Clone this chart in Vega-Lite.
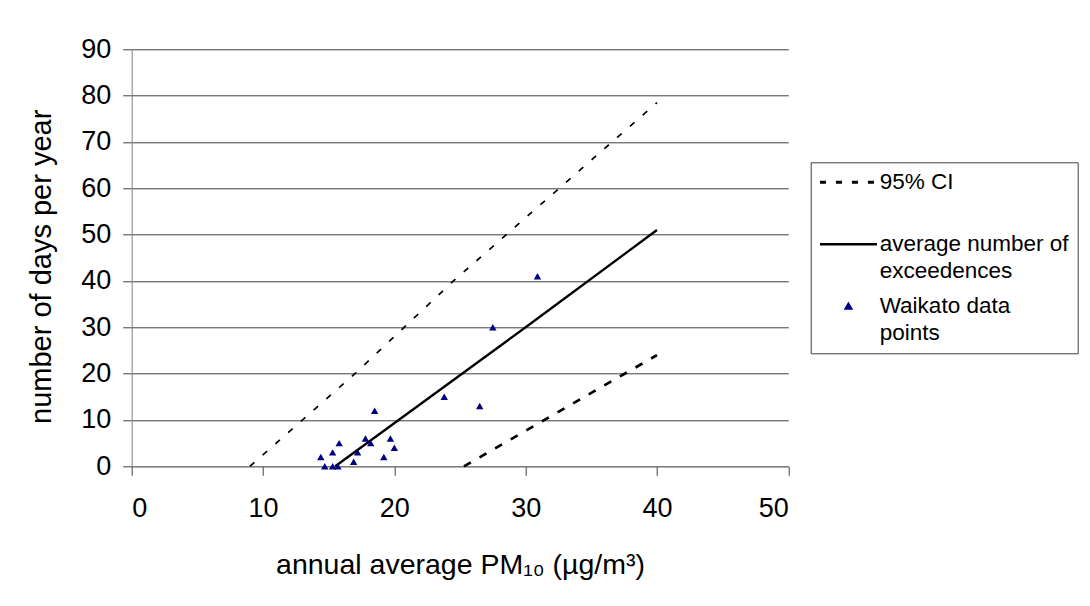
{
  "$schema": "https://vega.github.io/schema/vega-lite/v6.json",
  "width": 656.6,
  "height": 417,
  "autosize": {"type": "none"},
  "padding": {"left": 131.7, "top": 49.3, "right": 301.7, "bottom": 139.7},
  "background": "white",
  "datasets": {
    "lines": [
      {"x": 9, "y": 0, "series": "95% CI", "line": "upper"},
      {"x": 17, "y": 20, "series": "95% CI", "line": "upper"},
      {"x": 24.5, "y": 40, "series": "95% CI", "line": "upper"},
      {"x": 40, "y": 78.5, "series": "95% CI", "line": "upper"},
      {"x": 25.3, "y": 0, "series": "95% CI", "line": "lower"},
      {"x": 40, "y": 24, "series": "95% CI", "line": "lower"},
      {"x": 15.5, "y": 0, "series": "average number of exceedences", "line": "average"},
      {"x": 30, "y": 30, "series": "average number of exceedences", "line": "average"},
      {"x": 40, "y": 51, "series": "average number of exceedences", "line": "average"}
    ],
    "points": [
      {"x": 30.9, "y": 41, "series": "Waikato data points"},
      {"x": 27.5, "y": 30, "series": "Waikato data points"},
      {"x": 23.8, "y": 15, "series": "Waikato data points"},
      {"x": 26.5, "y": 13, "series": "Waikato data points"},
      {"x": 18.5, "y": 12, "series": "Waikato data points"},
      {"x": 17.8, "y": 6, "series": "Waikato data points"},
      {"x": 19.7, "y": 6, "series": "Waikato data points"},
      {"x": 15.8, "y": 5, "series": "Waikato data points"},
      {"x": 18.2, "y": 5, "series": "Waikato data points"},
      {"x": 20, "y": 4, "series": "Waikato data points"},
      {"x": 15.3, "y": 3, "series": "Waikato data points"},
      {"x": 17.2, "y": 3, "series": "Waikato data points"},
      {"x": 14.4, "y": 2, "series": "Waikato data points"},
      {"x": 19.2, "y": 2, "series": "Waikato data points"},
      {"x": 16.9, "y": 1, "series": "Waikato data points"},
      {"x": 14.7, "y": 0, "series": "Waikato data points"},
      {"x": 15.3, "y": 0, "series": "Waikato data points"},
      {"x": 15.7, "y": 0, "series": "Waikato data points"}
    ]
  },
  "encoding": {
    "x": {
      "field": "x", "type": "quantitative",
      "scale": {"domain": [0, 50], "nice": false, "zero": false},
      "axis": {
        "title": "annual average PM₁₀ (µg/m³)",
        "values": [0, 10, 20, 30, 40, 50],
        "grid": false,
        "labelFontSize": 27,
        "labelPadding": 20,
        "titleFontSize": 28.5,
        "titlePadding": 29,
        "tickSize": 9
      }
    },
    "y": {
      "field": "y", "type": "quantitative",
      "scale": {"domain": [0, 90], "nice": false, "zero": false},
      "axis": {
        "title": "number of days per year",
        "values": [0, 10, 20, 30, 40, 50, 60, 70, 80, 90],
        "grid": true,
        "labelFontSize": 27,
        "labelPadding": 12,
        "titleFontSize": 29,
        "titlePadding": 24,
        "titleY": 217,
        "tickSize": 9
      }
    }
  },
  "layer": [
    {
      "data": {"name": "lines"},
      "transform": [{"filter": "datum.line == 'upper'"}],
      "mark": {"type": "line", "strokeDash": [6, 11], "strokeWidth": 1.7},
      "encoding": {
        "color": {
          "field": "series", "type": "nominal",
          "scale": {
            "domain": ["95% CI", "average number of exceedences", "Waikato data points"],
            "range": ["#000000", "#000000", "#000080"]
          },
          "legend": {
            "orient": "none",
            "legendX": 679,
            "legendY": 113,
            "title": null,
            "padding": 9,
            "strokeColor": "#404040",
            "fillColor": "#ffffff",
            "labelFont": "Liberation Sans",
            "labelFontSize": 22.5,
            "labelColor": "#000000",
            "labelLimit": 400,
            "labelOffset": 20,
            "labelBaseline": "top",
            "symbolType": "stroke",
            "symbolSize": 3249,
            "symbolOffset": 17.5,
            "clipHeight": 22,
            "rowPadding": 13,
            "labelExpr": "datum.label == '95% CI' ? ['95% CI', ''] : datum.label == 'Waikato data points' ? ['Waikato data', 'points'] : ['average number of', 'exceedences']",
            "encode": {
              "symbols": {
                "update": {
                  "shape": {"signal": "datum.value == 'Waikato data points' ? 'triangle-up' : 'stroke'"},
                  "size": {"signal": "datum.value == 'Waikato data points' ? 28 : 3249"},
                  "fill": {"signal": "datum.value == 'Waikato data points' ? '#000080' : 'transparent'"},
                  "stroke": {"signal": "datum.value == 'Waikato data points' ? 'transparent' : '#000000'"},
                  "strokeWidth": {"signal": "datum.value == '95% CI' ? 3 : 2.5"},
                  "strokeDash": {"signal": "datum.value == '95% CI' ? [6, 10] : [1, 0]"},
                  "opacity": {"value": 1}
                }
              },
              "labels": {
                "update": {
                  "lineHeight": {"value": 26.5},
                  "dy": {"value": -11}
                }
              }
            }
          }
        }
      }
    },
    {
      "data": {"name": "lines"},
      "transform": [{"filter": "datum.line == 'lower'"}],
      "mark": {"type": "line", "strokeDash": [8, 10], "strokeWidth": 2.7},
      "encoding": {"color": {"field": "series", "type": "nominal"}}
    },
    {
      "data": {"name": "lines"},
      "transform": [{"filter": "datum.line == 'average'"}],
      "mark": {"type": "line", "strokeWidth": 2.3},
      "encoding": {"color": {"field": "series", "type": "nominal"}}
    },
    {
      "data": {"name": "points"},
      "mark": {"type": "point", "shape": "triangle-up", "filled": true, "size": 55, "opacity": 1, "strokeWidth": 0},
      "encoding": {"color": {"field": "series", "type": "nominal"}}
    }
  ],
  "config": {
    "font": "Liberation Sans",
    "view": {"stroke": null},
    "axis": {
      "labelFont": "Liberation Sans",
      "titleFont": "Liberation Sans",
      "labelColor": "#000000",
      "titleColor": "#000000",
      "titleFontWeight": "normal",
      "domainColor": "#808080",
      "tickColor": "#404040",
      "gridColor": "#404040",
      "gridOpacity": 1
    }
  }
}
